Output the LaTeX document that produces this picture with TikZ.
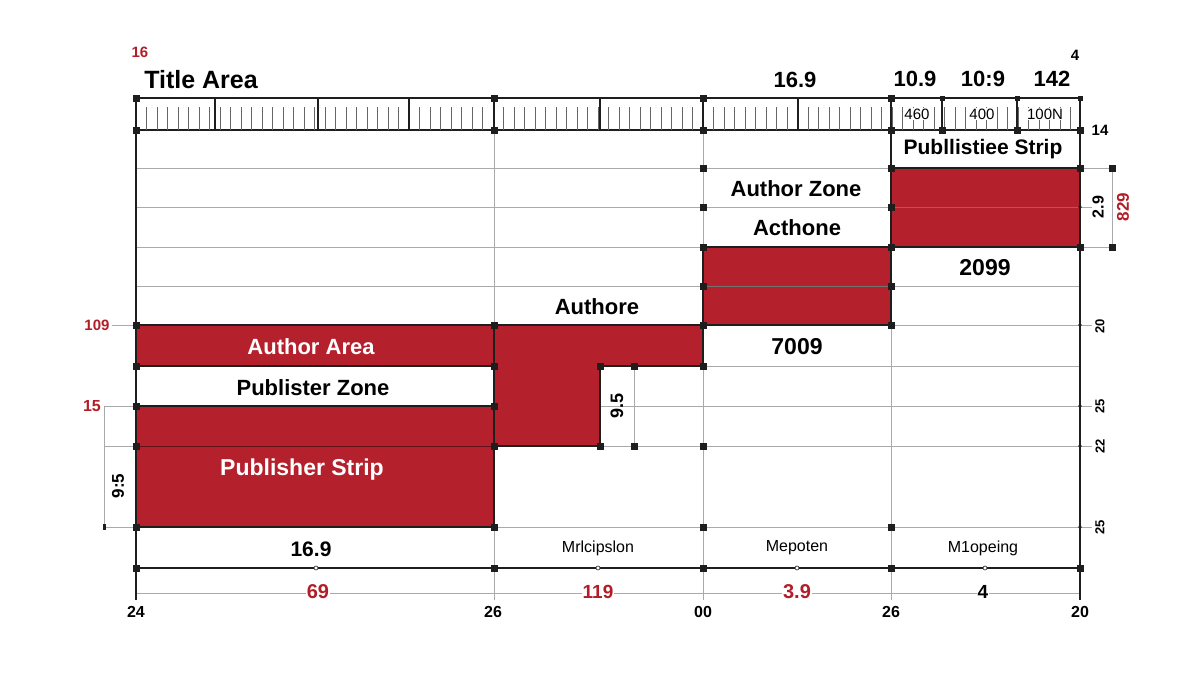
\documentclass[tikz,border=0pt]{standalone}
\usepackage{fontspec}
\setmainfont{Liberation Sans}
\definecolor{brick}{RGB}{181,32,45}
\definecolor{redtxt}{RGB}{178,30,40}
\definecolor{gridc}{RGB}{170,170,170}
\definecolor{inkc}{RGB}{30,30,30}
\newcommand{\fsz}[1]{\fontsize{#1}{#1}\selectfont}
\begin{document}
\begin{tikzpicture}[x=1pt,y=-1pt,
  gridline/.style={draw=gridc,line width=0.9pt},
  darkline/.style={draw=inkc,line width=1.4pt},
  redbox/.style={fill=brick,draw=inkc,line width=1.4pt},
  splitline/.style={draw=black!55,line width=0.7pt},
  mk/.style={fill=inkc},
  big/.style={font=\bfseries\fsz{22},inner sep=1pt,text=black},
  bigw/.style={font=\bfseries\fsz{22},inner sep=1pt,text=white},
  small/.style={font=\fsz{16},inner sep=1pt,text=black},
  redlbl/.style={font=\bfseries\fsz{15},inner sep=1pt,text=redtxt},
  numlbl/.style={font=\bfseries\fsz{16},inner sep=1pt,text=black},
  sidelbl/.style={font=\bfseries\fsz{13},inner sep=1pt,text=black,rotate=90},
]
\useasboundingbox (0,0) rectangle (1200,675);
\fill[white] (0,0) rectangle (1200,675);

% ---------- grid ----------
\foreach \y in {168,207,247,286,325,366,406,446,527}
  \draw[gridline] (136,\y) -- (1080,\y);
\foreach \x in {494,703,891}
  \draw[gridline] (\x,130) -- (\x,600);
\draw[gridline] (136,593) -- (1080,593);
\draw[gridline] (634,366) -- (634,446);

% ---------- red areas ----------
\draw[redbox] (136,325) rectangle (494,366);
\draw[redbox] (136,406) rectangle (494,527);
\draw[splitline,draw=black!45!brick] (136,446) -- (494,446);
\draw[redbox] (494,325) -- (703,325) -- (703,366) -- (600,366) -- (600,446) -- (494,446) -- cycle;
\draw[redbox] (703,247) rectangle (891,325);
\draw[splitline] (703,286) -- (891,286);
\draw[redbox] (891,168) rectangle (1080,247);
\draw[splitline] (891,207) -- (1080,207);

% ---------- outer lines ----------
\draw[darkline] (136,98) -- (136,600);
\draw[darkline] (1080,130) -- (1080,600);
\draw[darkline] (136,568) -- (1080,568);
\draw[darkline] (891,130) rectangle (1080,168);

% ---------- ruler ----------
\draw[darkline,line width=1.2pt] (136,98) rectangle (1080,130);
\foreach \x in {146.5,157,...,1075}
  \draw[draw=black!60,line width=0.7pt] (\x,107) -- (\x,130);
\foreach \x in {215,318,409,494,600,703,798,891,942,1017}
  \draw[darkline,line width=1.3pt] (\x,98) -- (\x,130);

% ---------- left dimension ----------
\draw[gridline] (112,325) -- (136,325);
\draw[gridline] (104,406) -- (136,406);
\draw[gridline] (104,406) -- (104,527);
\draw[gridline] (104,446) -- (136,446);
\draw[gridline] (104,527) -- (136,527);
\fill[inkc] (102.5,524) rectangle (105.5,530);

% ---------- right dimension ----------
\draw[gridline] (1080,168) -- (1112,168) -- (1112,247) -- (1080,247);
\foreach \y in {207,325,406,446,527}
  {\draw[gridline] (1080,\y) -- (1092,\y);
   \fill[inkc] (1080,\y) circle (1.8);}

% ---------- bottom small dots ----------
\foreach \x in {316,598,797,985}
  \filldraw[fill=white,draw=inkc,line width=0.6pt] (\x,568) circle (2);

% ---------- square markers ----------
\foreach \p in {(136,98),(136,130),(494,98),(494,130),(703,98),(703,130),
  (891,98),(891,130),(942,130),(1017,130),(1080,130),
  (136,325),(136,366),(136,406),(136,446),(136,527),
  (494,325),(494,366),(494,406),(494,446),(494,527),
  (600,366),(634,366),(600,446),(634,446),(703,446),(703,366),
  (703,168),(703,207),(703,247),(703,286),(703,325),
  (891,168),(891,207),(891,247),(891,286),(891,325),
  (1080,168),(1080,247),(1112,168),(1112,247),
  (703,527),(891,527),
  (136,568),(494,568),(703,568),(891,568),(1080,568)}
  \fill[mk] \p ++(-3.5,-3.5) rectangle ++(7,7);
\foreach \p in {(942,98),(1017,98),(1080,98)}
  \fill[mk] \p ++(-2.5,-2.5) rectangle ++(5,5);

% ---------- top labels ----------
\node[redlbl] (t16) at (140,52) {16};
\node[big,font=\bfseries\fsz{25}] (title) at (201,80) {Title Area};
\node[big] (h169) at (795,80) {16.9};
\node[big] (h109) at (915,79) {10.9};
\node[big] (h109b) at (983,79) {10:9};
\node[big] (h142) at (1052,79) {142};
\node[numlbl,font=\bfseries\fsz{15}] (h4) at (1075,55) {4};
\node[numlbl,font=\bfseries\fsz{15}] (h14) at (1100,130) {14};
\node[small,font=\fsz{15},fill=white,inner sep=0.5pt] (r460) at (917,114) {460};
\node[small,font=\fsz{15},fill=white,inner sep=0.5pt] (r400) at (982,114) {400};
\node[small,font=\fsz{15},fill=white,inner sep=0.5pt] (r100) at (1045,114) {100N};

% ---------- cell labels ----------
\node[big,font=\bfseries\fsz{21}] (pstrip) at (983,149) {Publlistiee Strip};
\node[big] (azone) at (796,189) {Author Zone};
\node[big] (acth) at (797,228) {Acthone};
\node[big,font=\bfseries\fsz{23}] (n2099) at (985,268) {2099};
\node[big] (authore) at (597,307) {Authore};
\node[big,font=\bfseries\fsz{23}] (n7009) at (797,347) {7009};
\node[bigw] (aarea) at (311,347) {Author Area};
\node[big] (pzone) at (313,388) {Publister Zone};
\node[bigw,font=\bfseries\fsz{23}] (pubstrip) at (302,470) {Publisher Strip};
\node[big,font=\bfseries\fsz{18},rotate=90] (d95) at (617,406) {9.5};

% ---------- side labels ----------
\node[redlbl] (l109) at (97,325) {109};
\node[redlbl,font=\bfseries\fsz{16}] (l15) at (92,406) {15};
\node[big,font=\bfseries\fsz{17},rotate=90] (l95) at (118,486) {9:5};
\node[big,font=\bfseries\fsz{16},rotate=90] (r29) at (1098,207) {2.9};
\node[redlbl,font=\bfseries\fsz{17},rotate=90] (r829) at (1123,207) {829};
\node[sidelbl] (s1) at (1100,326) {20};
\node[sidelbl] (s2) at (1100,406) {25};
\node[sidelbl] (s3) at (1100,446) {22};
\node[sidelbl] (s4) at (1100,527) {25};

% ---------- bottom labels ----------
\node[big,font=\bfseries\fsz{21}] (b169) at (311,549) {16.9};
\node[small] (bm1) at (598,548) {Mrlcipslon};
\node[small] (bm2) at (797,548) {Mepoten};
\node[small] (bm3) at (983,548) {M1opeing};
\node[redlbl,font=\bfseries\fsz{20},fill=white] (v69) at (318,592) {69};
\node[redlbl,font=\bfseries\fsz{19},fill=white] (v119) at (598,592) {119};
\node[redlbl,font=\bfseries\fsz{20},fill=white] (v39) at (797,592) {3.9};
\node[numlbl,font=\bfseries\fsz{19},fill=white] (v4) at (983,592) {4};
\node[numlbl] (x24) at (136,612) {24};
\node[numlbl] (x26) at (493,612) {26};
\node[numlbl] (x00) at (703,612) {00};
\node[numlbl] (x26b) at (891,612) {26};
\node[numlbl] (x20) at (1080,612) {20};
\end{tikzpicture}
\end{document}
